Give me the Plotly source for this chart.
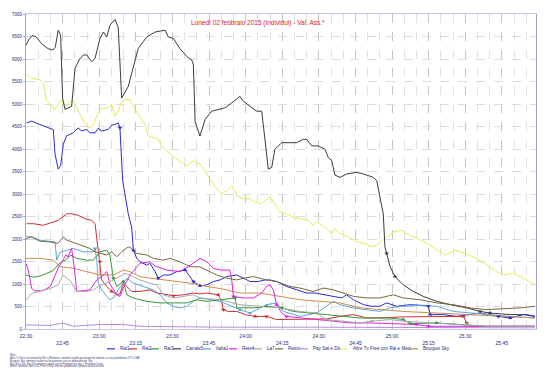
import plotly.graph_objects as go

# ---------------- data (minutes after 22:30, audience) ----------------
tick_minutes = [0, 15, 30, 45, 60, 75, 90, 105, 120, 135, 150, 165, 180, 195]
tick_labels = ["22:30", "22:45", "23:00", "23:15", "23:30", "23:45", "24:00",
               "24:15", "24:30", "24:45", "25:00", "25:15", "25:30", "25:45"]

rai1_t = [0.3, 2.3, 5.7, 10.5, 11.2, 11.9, 13.2, 14.2, 15.3, 16.6, 19.4, 21.4, 22.8, 24.9, 26.2, 28.3, 29.6, 31, 33.7,
          35.1, 36.5, 37.8, 38.5, 39.6, 41, 41.9, 43.3, 44, 45.4, 46.7, 49.5, 50.8, 52.9, 54.2, 56.3, 59, 61.8, 65.2,
          67.2, 68.6, 71.3, 74.1, 76.8, 79.5, 82.3, 86.4, 89.1, 91.8, 95.2, 98, 100, 102.7, 106.8, 110.9, 115, 118.4,
          121.9, 126, 129.4, 131.4, 134.2, 138.3, 141.7, 145, 147.8, 151.9, 157.4, 164.2, 164.9, 165.6, 167.6, 171,
          176.5, 182, 186.1, 193.6, 198.4, 203.8, 208.6]
rai1_v = [4580, 4620, 4545, 4435, 4430, 3885, 3555, 3630, 4105, 4290, 4360, 4470, 4400, 4435, 4360, 4360, 4460, 4400, 4435,
          4530, 4545, 4580, 4470, 3300, 2855, 2560, 2265, 1750, 1570, 1495, 1420, 1460, 1275, 1130, 1200, 1200, 1275, 1310,
          1165, 1055, 960, 980, 1055, 1090, 1165, 1200, 1130, 1055, 1055, 1090, 1090, 1055, 945, 870, 800, 800,
          760, 725, 690, 760, 650, 540, 505, 505, 580, 505, 540, 520, 505, 320, 320, 320,
          280, 320, 355, 280, 245, 320, 280]
rai1_marks = [38.5, 44, 54.2, 65.2, 68.6, 71.3, 164.9, 165.6, 193.6, 198.4]

rai2_t = [0.3, 3, 7.1, 11.2, 13.2, 14.6, 16.7, 18.7, 21.4, 24.2, 26.9, 28.3, 29, 30.3, 31, 33.1, 35.1, 37.2, 38.5, 39.9,
          41.3, 43.3, 46.7, 50.8, 53.6, 57.7, 60.4, 64.5, 68.6, 71.3, 74.1, 78.8, 80.2, 80.9, 82.9, 86.4, 89.8, 93.9,
          98.6, 102.7, 106.8, 112.3, 117.7, 123.2, 128.7, 134.2, 139.6, 145, 154.6, 168.3, 179.3, 180.6, 182, 188.8,
          195.6, 208.6]
rai2_v = [2340, 2340, 2305, 2375, 2415, 2475, 2560, 2560, 2525, 2450, 2415, 2340, 2045, 1495, 1090, 945, 835, 760, 780, 1020,
          945, 835, 835, 870, 800, 760, 740, 760, 800, 780, 800, 760, 615, 430, 390, 390, 320, 280,
          280, 210, 210, 225, 210, 225, 280, 320, 245, 245, 270, 280, 280, 135, 60, 60,
          60, 60]
rai2_marks = [30.3, 35.1, 60.4, 78.8, 80.9, 93.9, 98.6, 179.3, 180.6]

rai3_t = [0, 3, 6, 9, 11.2, 13.5, 16, 18.4, 20.8, 24.9, 27.6, 30.3, 33.1, 34.4, 35.1, 35.8, 37.2, 39.2, 39.9, 41.3, 43.9,
          49.5, 54.9, 60.4, 65.9, 70, 74.1, 79.5, 85.7, 86.4, 93.2, 98.6, 104.8, 109.5, 117.7, 123.2, 130, 136.9, 145,
          149.2, 154.6, 157.4, 168.3, 176.5, 188.8, 208.6]
rai3_v = [1200, 1150, 1180, 1240, 1300, 1450, 1530, 1640, 1570, 1530, 1530, 1715, 1750, 1640, 1385, 1130, 945, 1020, 1055, 760, 690,
          615, 580, 580, 580, 650, 615, 650, 690, 470, 470, 505, 470, 390, 355, 320, 280, 245, 245,
          245, 210, 120, 135, 100, 60, 60]
rai3_marks = [35.8, 39.9, 85.7, 98.6, 104.8, 154.6, 157.4, 168.3]

canale5_t = [0, 1, 2.5, 4, 6.4, 9, 11, 12, 13.2, 14.2, 15, 16, 18.7, 20.1, 22, 23.5, 24.9, 26.9, 28.3, 30.3, 31.7, 33.1,
             34.4, 36.5, 37.8, 39.2, 41.9, 44, 46, 49.5, 52.9, 57, 58.3, 60.4, 63.1, 65.9, 67.9, 68.6, 69.3, 71.3, 73.4,
             76.1, 78.8, 81.6, 84.3, 87.7, 89.1, 91.8, 94.5, 96.6, 98, 99.3, 100.7, 102, 104.8, 108.2, 110.9, 113.6,
             115, 117.1, 119.8, 122.5, 123.9, 125.3, 126.6, 128.7, 131.4, 135.5, 138, 142.3, 143.7, 146.4, 147.1,
             147.8, 149.2, 151.2, 154.6, 158.7, 162.8, 168.3, 173.8, 180.6, 186.1, 190.2, 198.4, 205.2, 208.6]
canale5_v = [6300, 6420, 6520, 6500, 6340, 6230, 6200, 6260, 6640, 6530, 5130, 4880, 4950, 5795, 6000, 6090, 6090, 5940, 6015,
             6455, 6600, 6490, 6750, 6880, 6700, 5130, 5390, 5795, 6235, 6490, 6600, 6640, 6490, 6455, 6230, 6055, 5980,
             5870, 4600, 4290, 4660, 4840, 4880, 4915, 5025, 5170, 5060, 4950, 4840, 4840, 4180, 3555, 3590, 3995, 4140,
             4140, 4140, 4215, 4215, 4070, 4070, 3995, 3810, 3740, 3420, 3370, 3445, 3480, 3450, 3370, 3300, 2560, 1825,
             1680, 1385, 1165, 980, 835, 725, 615, 540, 470, 390, 355, 320, 320, 280]
canale5_marks = [147.8, 151.2, 186.1, 190.2]

italia1_t = [0, 2.3, 5.7, 11.9, 12.6, 13.9, 16.7, 19.4, 23.5, 27.6, 28.3, 29, 29.6, 31, 33.1, 34.4, 35.8, 37.8, 39.9, 41.3,
             44, 48.1, 52.2, 54.9, 57.7, 60.4, 63.1, 65.9, 68.6, 71.3, 79.5, 87.7, 91.8, 98.6, 102.7, 105.5, 112.3,
             119.1, 125.9, 128.7, 134.1, 139.6, 145.1, 149.2, 154.6, 161.5, 168.3, 175.1, 182, 190.2, 198.4, 208.6]
italia1_v = [2050, 2050, 1975, 1935, 1530, 1700, 1750, 1790, 1715, 1715, 1790, 1530, 1020, 870, 725, 650, 690, 870, 1020, 1130,
             1020, 945, 870, 760, 580, 505, 470, 505, 615, 690, 615, 430, 355, 540, 580, 390, 280,
             355, 615, 540, 470, 430, 390, 470, 505, 520, 505, 390, 355, 320, 280, 245]
italia1_marks = [28.3, 87.7, 91.8]

rete4_t = [0, 1, 2.3, 3.5, 7, 10, 13.2, 15.2, 16.4, 17.2, 18.7, 19.7, 20.8, 26.2, 29, 31.7, 33.1, 34.4, 37.2, 38.5, 39.8,
           42.6, 46.7, 50.8, 52.9, 57.7, 63.1, 68.6, 71.3, 74.1, 76.8, 79.5, 83.6, 84.3, 85, 89.1, 93.2, 96.6, 98.6,
           100, 101.4, 102.7, 104.8, 106.8, 112.3, 119.1, 125.9, 132.8, 141, 149.2, 160.1, 164.9, 182, 208.6]
rete4_v = [1450, 1300, 900, 850, 850, 950, 1355, 1550, 1650, 1600, 1790, 1400, 835, 870, 1090, 1200, 1275, 1000, 760, 725, 900,
           1200, 1460, 1495, 1400, 1310, 1275, 1460, 1570, 1495, 1350, 1310, 1310, 1090, 725, 690, 690, 800, 945,
           980, 870, 540, 355, 280, 245, 210, 175, 135, 135, 120, 100, 60, 60, 60]
rete4_marks = [85, 102.7, 106.8, 160.1, 164.9]

la7_t = [0, 2.7, 6, 10, 13.2, 15.2, 18.4, 20.8, 24.9, 27.6, 29.6, 33.1, 35.8, 38.5, 40.6, 44, 46.7, 50.8, 53.6, 56.3, 60.4,
         64.5, 68.6, 71.3, 79.5, 87.7, 95.9, 104.1, 112.3, 119.1, 123.2, 130, 136.9, 141.7, 149.2, 154.6, 168.3, 180.6,
         188.8, 208.6]
la7_v = [650, 800, 850, 900, 980, 1200, 1055, 835, 835, 870, 945, 1020, 1090, 1165, 1240, 1165, 1090, 1020, 980, 760, 690,
         725, 760, 690, 650, 540, 505, 470, 390, 355, 210, 175, 135, 175, 210, 175, 135, 100,
         60, 60]
la7_marks = [119.1, 123.2, 141.7, 180.6]

resto_t = [0, 2, 5.7, 9.8, 13, 15.3, 16.7, 22.1, 26.2, 28.3, 30.3, 33.1, 35.1, 37.2, 39.2, 41.9, 43.3, 45.4, 49.5, 52.2,
           56.3, 59, 63.1, 67.2, 71.3, 75.4, 78.2, 82.3, 86.4, 89.1, 93.2, 98.6, 102.7, 108.2, 112.3, 117.7, 121.9, 126,
           130.1, 134.2, 139.6, 145, 150.5, 154.6, 161.5, 168.3, 175.1, 182, 188.8, 195.6, 202.5, 208.6]
resto_v = [2000, 2050, 1950, 1935, 1900, 2045, 1975, 1865, 1790, 1715, 1680, 1645, 1715, 1605, 1715, 1825, 1790, 1680, 1645, 1570,
           1530, 1570, 1495, 1385, 1380, 1275, 1200, 1130, 1090, 1130, 1165, 1090, 1055, 945, 910, 835, 910, 870,
           800, 725, 690, 690, 760, 690, 650, 580, 540, 470, 430, 445, 470, 505]

pay_t = [0, 10, 15, 19.4, 30, 40, 46.7, 80, 120, 160, 208.6]
pay_v = [90, 80, 130, 60, 100, 100, 60, 40, 40, 30, 25]

altre_t = [0.3, 2.3, 5.7, 7.1, 8.5, 10.5, 11.9, 14.6, 16, 18, 19.4, 20.8, 22.8, 24.9, 26.2, 27.6, 29.6, 31, 33.7, 35.1, 36.5,
           37.8, 39.2, 40.6, 42.6, 44.7, 46.7, 48.8, 50.1, 52.2, 54.2, 55.6, 57.7, 59.7, 61.8, 65.9, 68.6, 71.3, 74.1,
           75.4, 77.5, 80.2, 82.3, 84.3, 86.4, 89.1, 91.8, 93.9, 95.9, 98, 100, 102, 104.1, 106.8, 109.5, 112.3,
           115.7, 117.7, 119.1, 121.2, 123.2, 125.3, 126.6, 128.7, 132.1, 135.5, 138.9, 141.7, 143.7, 147.8, 150.5,
           154, 156, 160.1, 163.5, 167.6, 171.7, 175.8, 179.9, 184.7, 188.8, 192.9, 195.6, 199.7, 203.8, 208.6]
altre_v = [5650, 5575, 5540, 5450, 5060, 4950, 4880, 5100, 4915, 5060, 5060, 4915, 4690, 4510, 4470, 4545, 4800, 4900, 4915, 4990,
           4730, 4840, 5060, 5100, 5100, 4880, 4730, 4545, 4290, 4250, 4215, 4070, 3960, 3850, 3775, 3630, 3740, 3665,
           3445, 3320, 3150, 3005, 3075, 3185, 2965, 2895, 2895, 2820, 2780, 2855, 2930, 2780, 2600, 2560, 2490, 2450,
           2415, 2305, 2380, 2305, 2230, 2120, 2230, 2120, 2045, 1935, 1900, 1825, 1865, 2045, 2155, 2195, 2120, 2010,
           1935, 1790, 1645, 1755, 1680, 1570, 1420, 1275, 1200, 1240, 1130, 980]

bouquet_t = [0, 5.7, 11.2, 14, 19.4, 24.9, 30.3, 35.8, 39.9, 42.6, 46.7, 50.8, 56.3, 61.8, 67.2, 74.1, 79.5, 87.7, 95.9,
             104.1, 112.3, 120.5, 128.7, 136.9, 145, 154.6, 168.3, 182, 195.6, 208.6]
bouquet_v = [1570, 1570, 1530, 1385, 1350, 1275, 1200, 1200, 1310, 1275, 1165, 1130, 1090, 1055, 1020, 945, 900, 800, 800,
             725, 650, 615, 580, 470, 430, 390, 355, 320, 280, 245]

series = [
    ("Rai1", rai1_t, rai1_v, "#2b2bd6", rai1_marks),
    ("Rai2", rai2_t, rai2_v, "#c83030", rai2_marks),
    ("Rai3", rai3_t, rai3_v, "#3a963a", rai3_marks),
    ("Canale5", canale5_t, canale5_v, "#3c3c3c", canale5_marks),
    ("Italia1", italia1_t, italia1_v, "#5aa6dc", italia1_marks),
    ("Rete4", rete4_t, rete4_v, "#e022e0", rete4_marks),
    ("La7", la7_t, la7_v, "#a8a8a8", la7_marks),
    ("Resto", resto_t, resto_v, "#7a6838", []),
    ("Pay Sat e Dtt", pay_t, pay_v, "#b48ee0", []),
    ("Altre Tv Free con Rai e Med.", altre_t, altre_v, "#eaea5a", []),
    ("Bouquet Sky", bouquet_t, bouquet_v, "#d08c4c", []),
]

notes = [
    "Note:",
    "Altre Tv Free con tematiche Rai e Mediaset: emittenti visibili gratuitamente almeno su una piattaforma DTT o SAT",
    "Bouquet Sky: emittenti visibili esclusivamente con un abbonamento Sky",
    "Pay Sat e Dtt: Pay Dtt: emittenti visibili con le Premium ma sky + Premium Calcio",
    "Resto: emittenti Sat e Dtt, Free e Pay, che non pubblicano il proprio dato d'ascolto",
]

# ---------------- figure ----------------
W, H = 560, 371
L, R, T, B = 26, 24, 12, 42
PW, PH = W - L - R, H - T - B


def px(x):
    return (x - L) / PW


def py(y):
    return (H - B - y) / PH


fig = go.Figure()
draw_order = [9, 3, 0, 1, 4, 7, 10, 2, 5, 6, 8]
for i in draw_order:
    name, t, v, c, marks = series[i]
    fig.add_trace(go.Scatter(x=t, y=v, mode="lines", name=name,
                             line=dict(color=c, width=1), showlegend=False))
for i in draw_order:
    name, t, v, c, marks = series[i]
    if not marks:
        continue
    mt = [tt for tt in t if tt in marks]
    mv = [vv for tt, vv in zip(t, v) if tt in marks]
    syms = ["triangle-down" if k % 2 == 0 else "triangle-up" for k in range(len(mt))]
    fig.add_trace(go.Scatter(x=mt, y=mv, mode="markers", name=name,
                             marker=dict(color=c, size=4, symbol=syms, line=dict(width=0)),
                             showlegend=False))

ticktext = [lab if k % 2 == 0 else "<br>" + lab for k, lab in enumerate(tick_labels)]

fig.update_layout(
    width=W, height=H, margin=dict(l=L, r=R, t=T, b=B),
    paper_bgcolor="white", plot_bgcolor="white",
    font=dict(family="Liberation Sans, Arial, sans-serif", color="#2a2a80"),
    showlegend=False,
    xaxis=dict(range=[0, 209], tickmode="array", tickvals=tick_minutes, ticktext=ticktext,
               tickfont=dict(size=5, color="#2a2a80"), ticklabelstandoff=2,
               showgrid=True, gridcolor="#c4c4c4", griddash="dash", gridwidth=1,
               minor=dict(dtick=5, tick0=0, showgrid=True, gridcolor="#e2e2e2", griddash="dash"),
               showline=True, linecolor="#c8c8e6", mirror=True, zeroline=False,
               ticks="", fixedrange=True),
    yaxis=dict(range=[0, 7000], dtick=500, tickfont=dict(size=4.5, color="#2a2a80"),
               showgrid=True, gridcolor="#dcdcdc", griddash="dash",
               showline=True, linecolor="#a0a0d8", mirror=True, zeroline=False,
               ticks="outside", ticklen=2, tickcolor="#a0a0d8", fixedrange=True),
)

anns = [dict(text="Lunedì 02 febbraio 2015 (Individui) - Val. Ass.*", x=px(258), y=py(21),
             xref="paper", yref="paper", showarrow=False, xanchor="center", yanchor="middle",
             font=dict(size=6.5, color="#e02020"))]

# manual legend
leg_text_x = [117.5, 139.5, 161.5, 183.5, 213.5, 239.5, 264.5, 285.5, 310.5, 350.5, 420.5]
leg_y = 349
shapes = []
for (name, t, v, c, marks), tx in zip(series, leg_text_x):
    shapes.append(dict(type="line", xref="paper", yref="paper", x0=px(tx - 10.5), x1=px(tx - 2.5),
                       y0=py(leg_y), y1=py(leg_y), line=dict(color=c, width=1.2)))
    anns.append(dict(text=name, x=px(tx), y=py(leg_y), xref="paper", yref="paper", showarrow=False,
                     xanchor="left", yanchor="middle", font=dict(size=4.6, color="#2a2a80")))

for k, line in enumerate(notes):
    anns.append(dict(text=line, x=px(8), y=py(355.5 + 2.8 * k), xref="paper", yref="paper",
                     showarrow=False, xanchor="left", yanchor="middle",
                     font=dict(size=2.6, color="#3a3a70")))

fig.update_layout(annotations=anns, shapes=shapes)
fig.write_html("out.html", config={"displayModeBar": False},
               post_script="document.body.style.margin='0px';")
